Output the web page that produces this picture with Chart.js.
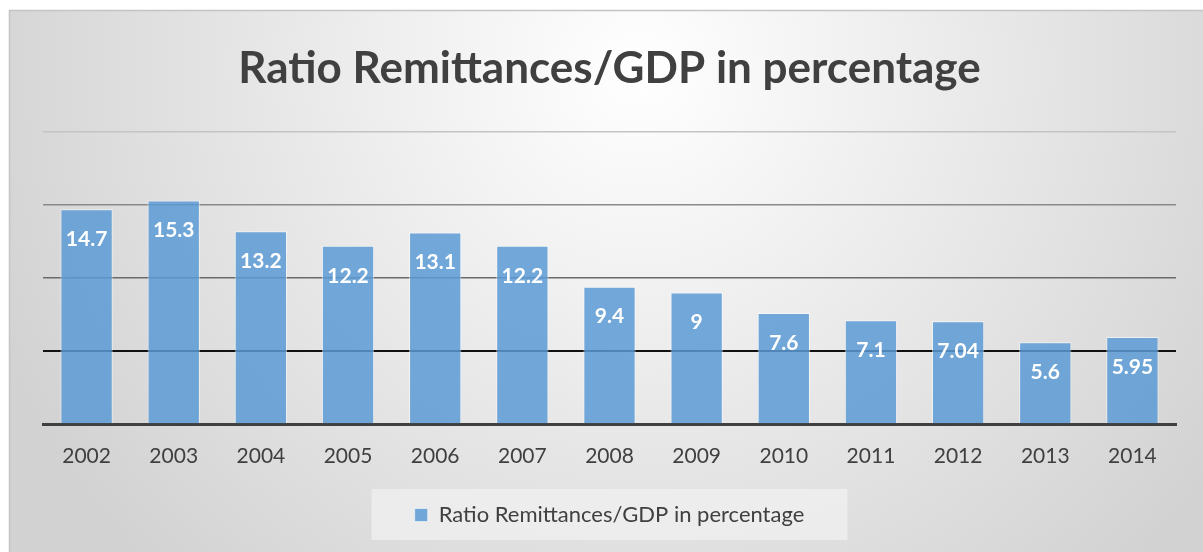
<!DOCTYPE html>
<html>
<head>
<meta charset="utf-8">
<script src="https://cdn.jsdelivr.net/npm/chart.js@4/dist/chart.umd.min.js"></script>
<style>
  html, body { margin: 0; padding: 0; background: #fff; }
  #chart { display: block; }
</style>
</head>
<body>
<canvas id="chart" width="1203" height="552"></canvas>
<script>
const years = ["2002", "2003", "2004", "2005", "2006", "2007", "2008", "2009", "2010", "2011", "2012", "2013", "2014"];
const ratios = [14.7, 15.3, 13.2, 12.2, 13.1, 12.2, 9.4, 9, 7.6, 7.1, 7.04, 5.6, 5.95];
const seriesName = "Ratio Remittances/GDP in percentage";
const yTicks = [0, 5, 10, 15, 20];

const FONT = "Lato, 'Open Sans', sans-serif";
const barColor = "rgba(91, 155, 213, 0.85)";

// gridline colour per value, as in the original
function gridColor(value) {
    if (value === 0) return "rgba(0,0,0,0)";
    if (value === 5) return "#111111";
    if (value === 10) return "#6a6a6a";
    if (value === 15) return "#8a8a8a";
    return "#c4c4c4";
}

const backgroundPlugin = {
    id: "frameBg",
    beforeDraw(chart) {
        const ctx = chart.ctx;
        ctx.save();
        ctx.fillStyle = "#ffffff";
        ctx.fillRect(0, 0, chart.width, chart.height);
        const g = ctx.createRadialGradient(640, 70, 0, 640, 70, 700);
        g.addColorStop(0, "#ffffff");
        g.addColorStop(1, "#d2d2d2");
        ctx.fillStyle = g;
        ctx.fillRect(9, 10, chart.width, chart.height);
        ctx.strokeStyle = "#c4c4c4";
        ctx.lineWidth = 1.5;
        ctx.strokeRect(9.5, 10.5, chart.width + 10, chart.height + 10);

        // light panel behind the legend
        const legend = chart.legend;
        if (legend && legend.legendHitBoxes && legend.legendHitBoxes.length) {
            const hb = legend.legendHitBoxes[0];
            const cy = hb.top + hb.height / 2;
            const cx = hb.left + hb.width / 2;
            ctx.fillStyle = "rgba(240,240,240,0.75)";
            ctx.fillRect(cx - 238, cy - 26, 476, 51);
        }
        ctx.restore();
    }
};

const valueLabels = {
    id: "valueLabels",
    afterDatasetsDraw(chart) {
        const ctx = chart.ctx;
        const meta = chart.getDatasetMeta(0);
        ctx.save();
        ctx.fillStyle = "#ffffff";
        ctx.font = "bold 21px " + FONT;
        ctx.textAlign = "center";
        ctx.textBaseline = "middle";
        meta.data.forEach((bar, i) => {
            ctx.fillText(String(ratios[i]), bar.x, bar.y + 30);
        });
        ctx.restore();
    }
};

new Chart(document.getElementById("chart").getContext("2d"), {
    type: "bar",
    data: {
        labels: years,
        datasets: [{
            label: seriesName,
            data: ratios,
            backgroundColor: barColor,
            borderColor: "rgba(255,255,255,0.55)",
            borderWidth: 1,
            categoryPercentage: 1,
            barPercentage: 0.6
        }]
    },
    options: {
        responsive: false,
        animation: false,
        devicePixelRatio: 1,
        layout: {
            padding: { left: 43, right: 27, top: 10, bottom: 16 }
        },
        plugins: {
            title: {
                display: true,
                text: seriesName,
                color: "#404040",
                font: { family: FONT, size: 44, weight: "bold" },
                padding: { top: 32, bottom: 37 }
            },
            legend: {
                display: true,
                position: "bottom",
                labels: {
                    color: "#404040",
                    font: { family: FONT, size: 22 },
                    boxWidth: 13,
                    boxHeight: 13,
                    padding: 30
                }
            },
            tooltip: { enabled: false }
        },
        scales: {
            x: {
                grid: { display: false, drawTicks: false },
                border: { display: true, color: "#404040", width: 3 },
                ticks: {
                    color: "#404040",
                    font: { family: FONT, size: 21 },
                    padding: 20
                },
                afterFit(scale) { scale.height = 50; }
            },
            y: {
                min: yTicks[0],
                max: yTicks[yTicks.length - 1],
                afterBuildTicks(scale) {
                    scale.ticks = yTicks.map(v => ({ value: v }));
                },
                ticks: { display: false },
                border: { display: false },
                grid: {
                    drawTicks: false,
                    color: ctx => gridColor(ctx.tick ? ctx.tick.value : -1),
                    lineWidth: ctx => (ctx.tick && ctx.tick.value === 5 ? 2 : 1.5)
                }
            }
        }
    },
    plugins: [backgroundPlugin, valueLabels]
});
</script>
</body>
</html>
